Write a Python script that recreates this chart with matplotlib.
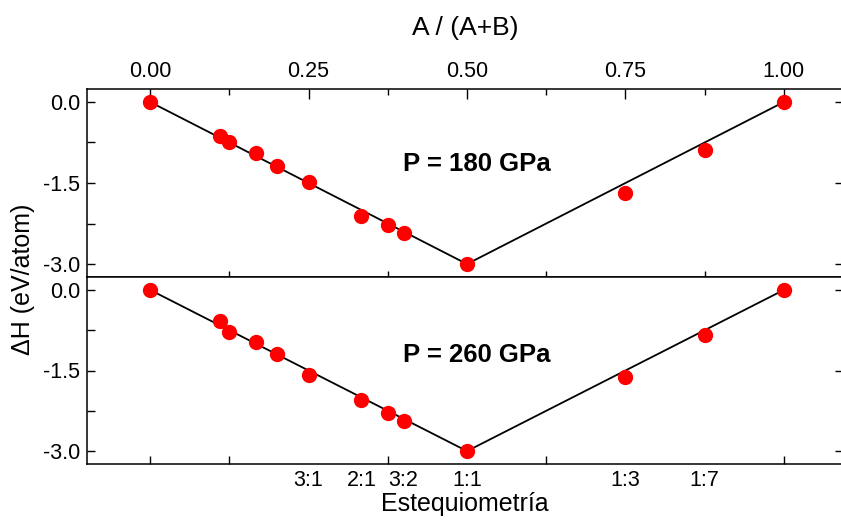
import matplotlib
matplotlib.use('Agg')
import matplotlib.pyplot as plt
from matplotlib.ticker import MultipleLocator, FixedLocator

plt.rcParams['font.family'] = ['Liberation Sans', 'DejaVu Sans']
plt.rcParams['axes.unicode_minus'] = False

# composition A/(A+B) of each structure
frac = [0, 1/9, 1/8, 1/6, 1/5, 1/4, 1/3, 3/8, 2/5, 1/2, 3/4, 7/8, 1]
# formation enthalpy (eV/atom)
dh_180 = [0, -0.63, -0.74, -0.94, -1.185, -1.48, -2.11, -2.28, -2.43, -3.0, -1.685, -0.89, 0]
dh_260 = [0, -0.58, -0.79, -0.975, -1.2, -1.59, -2.04, -2.29, -2.44, -3.0, -1.63, -0.84, 0]

# convex hull
hull_x = [0, 0.5, 1]
hull_180 = [0, -3.0, 0]
hull_260 = [0, -3.0, 0]

top_ticks = [0, 0.25, 0.5, 0.75, 1.0]
stoich_pos = [1/4, 1/3, 2/5, 1/2, 3/4, 7/8]
stoich_labels = ['3:1', '2:1', '3:2', '1:1', '1:3', '1:7']
y_ticks = [0.0, -1.5, -3.0]

fig = plt.figure(figsize=(8.41, 5.2), dpi=100)
ax1 = fig.add_axes([87/841, 1-277/520, 756/841, 188/520])
ax2 = fig.add_axes([87/841, 1-464/520, 756/841, 187/520])

panels = [(ax1, dh_180, hull_180, 'P = 180 GPa', -1.14),
          (ax2, dh_260, hull_260, 'P = 260 GPa', -1.22)]

for ax, dh, hull, lab, ty in panels:
    ax.plot(hull_x, hull, color='black', lw=1.3, zorder=2)
    ax.plot(frac, dh, 'o', color='red', ms=10, mec='red', zorder=3)
    ax.text(0.515, ty, lab, fontsize=18.5, fontweight='bold', ha='center', va='center')
    ax.set_xlim(-0.0995, 1.0932)
    ax.set_ylim(-3.24, 0.24)
    ax.set_yticks(y_ticks)
    ax.set_yticklabels(['%.1f' % v for v in y_ticks])
    ax.yaxis.set_minor_locator(FixedLocator([-0.75, -2.25]))
    ax.tick_params(axis='y', which='major', direction='in', length=6, width=1,
                   labelsize=15.5, pad=5, right=True)
    ax.tick_params(axis='y', which='minor', direction='in', length=6, width=1,
                   right=False)
    for s in ax.spines.values():
        s.set_linewidth(1.1)

# top panel: fraction axis on top
ax1.xaxis.tick_top()
ax1.set_xticks(top_ticks)
ax1.set_xticklabels(['%.2f' % v for v in top_ticks])
ax1.xaxis.set_minor_locator(MultipleLocator(0.125))
ax1.tick_params(axis='x', which='major', direction='in', length=7, width=1,
                labelsize=15.5, pad=5, top=True, bottom=False)
ax1.tick_params(axis='x', which='minor', direction='in', length=4, width=1,
                top=True, bottom=True)
ax1.xaxis.set_label_position('top')
ax1.set_xlabel('A / (A+B)', fontsize=19, labelpad=19)

# bottom panel: stoichiometry labels
ax2.set_xticks(stoich_pos)
ax2.set_xticklabels(stoich_labels)
ax2.xaxis.set_minor_locator(MultipleLocator(0.125))
ax2.tick_params(axis='x', which='major', length=0, labelsize=15.5, pad=4)
ax2.tick_params(axis='x', which='minor', direction='in', length=6, width=1,
                top=False, bottom=True)
ax2.set_xlabel('Estequiometría', fontsize=18, labelpad=1)

fig.text(23/841, 1-279/520, 'ΔH (eV/atom)', rotation=90, fontsize=18,
         ha='center', va='center')

fig.savefig('out.png', dpi=100)
